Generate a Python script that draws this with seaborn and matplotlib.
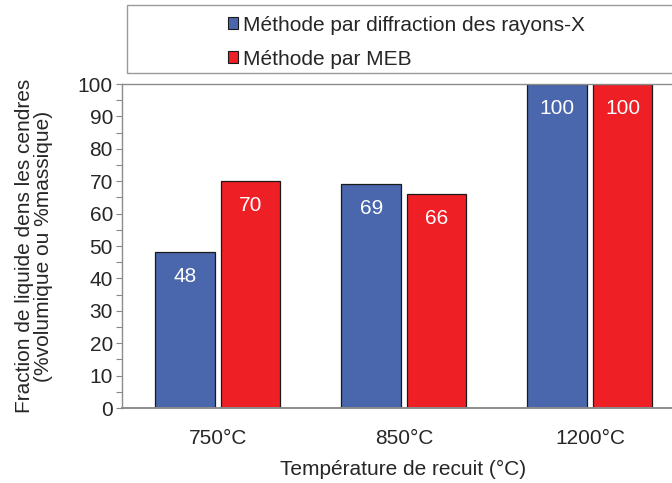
import matplotlib
matplotlib.use("Agg")
import matplotlib.pyplot as plt
import seaborn as sns
import pandas as pd
from matplotlib.patches import Rectangle, Patch
from matplotlib.ticker import MultipleLocator

categories = ["750°C", "850°C", "1200°C"]
series_names = ["Méthode par diffraction des rayons-X", "Méthode par MEB"]
xrd_values = [48, 69, 100]
meb_values = [70, 66, 100]
colors = ["#4A66AC", "#EE1F25"]

df = pd.DataFrame({
    "cat": categories * 2,
    "val": xrd_values + meb_values,
    "serie": [series_names[0]] * 3 + [series_names[1]] * 3,
})

sns.set_style("white")
plt.rcParams["font.family"] = ["Liberation Sans", "DejaVu Sans"]
FS = 15
plt.rcParams["font.size"] = FS

fig = plt.figure(figsize=(6.72, 4.83), dpi=100)
W, H = 672, 483
ax = fig.add_axes([122 / W, 1 - 408 / H, 558 / W, (408 - 84) / H])

sns.barplot(data=df, x="cat", y="val", hue="serie", order=categories,
            hue_order=series_names, palette=colors, width=0.70, gap=0.08,
            edgecolor="#1a1a1a", linewidth=0.9, saturation=1, ax=ax, legend=False)

for cont in ax.containers:
    for p in cont:
        h = p.get_height()
        ax.annotate(f"{h:.0f}", (p.get_x() + p.get_width() / 2, h),
                    xytext=(0, -17.5), textcoords="offset points",
                    ha="center", va="center", color="white", fontsize=FS)

ax.set_xlim(-0.516, 2.484)
ax.set_ylim(0, 100)
ax.yaxis.set_major_locator(MultipleLocator(10))
ax.yaxis.set_minor_locator(MultipleLocator(5))
ax.tick_params(axis="y", which="both", direction="out", length=4.5, width=0.8,
               color="#888888", left=True, labelsize=FS, pad=2)
ax.tick_params(axis="x", length=0, labelsize=FS, pad=15)

for s in ["left", "bottom", "top"]:
    ax.spines[s].set_color("#8c8c8c")
    ax.spines[s].set_linewidth(1.0)
ax.spines["bottom"].set_linewidth(1.4)
ax.spines["right"].set_visible(False)

ax.set_xlabel("Température de recuit (°C)", fontsize=FS, labelpad=9)
ax.set_ylabel("Fraction de liquide dens les cendres\n(%volumique ou %massique)",
              fontsize=FS, labelpad=18, linespacing=1.0)
ax.xaxis.label.set_position(((403 - 122) / 558, 0))

# legend box
fig.patches.append(Rectangle((127 / W, 1 - 73 / H), 600 / W, 68 / H,
                             transform=fig.transFigure, fill=False,
                             edgecolor="#9a9a9a", linewidth=1.0))
handles = [Patch(facecolor=c, edgecolor="#1a1a1a", linewidth=0.8) for c in colors]
fig.legend(handles, series_names, loc="upper left",
           bbox_to_anchor=(213 / W, 1 - 1 / H), frameon=False, fontsize=FS,
           handlelength=0.5, handleheight=0.5, handletextpad=0.25,
           labelspacing=0.72, borderpad=0.2)

fig.savefig("out.png", dpi=100)
